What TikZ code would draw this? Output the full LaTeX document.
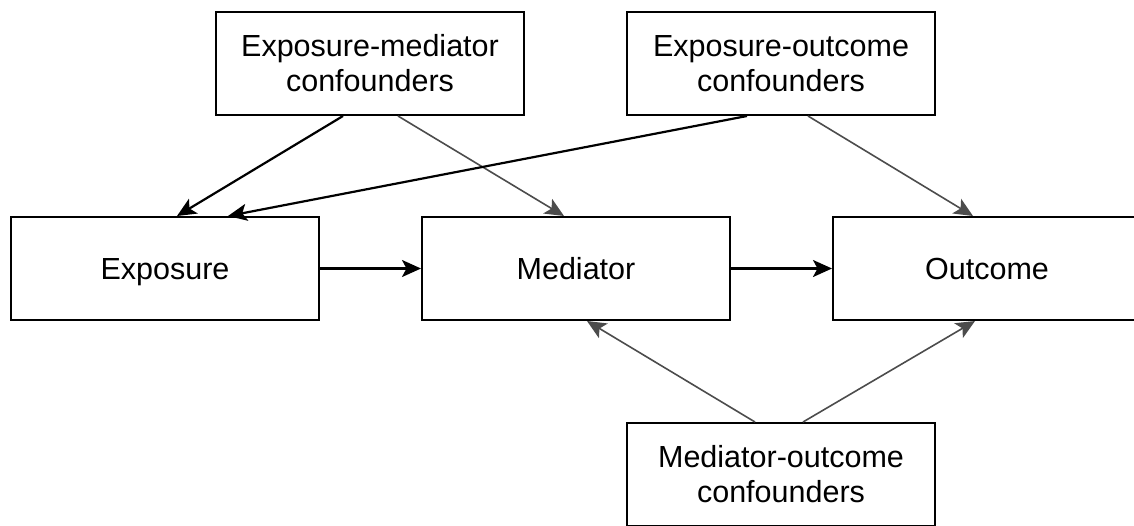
\documentclass[tikz,border=0pt]{standalone}
\usepackage{fontspec}
\setmainfont{Liberation Sans}
\usetikzlibrary{arrows.meta}
\begin{document}
\begin{tikzpicture}[x=1pt,y=-1pt,
  box/.style={draw=black,line width=2pt,fill=white,minimum width=308pt,minimum height=103pt,
    inner sep=0pt,align=center,font=\fontsize{30.5}{35}\selectfont},
  oneline/.style={text height=22pt,text depth=0pt},
  tip/.style={-{Stealth[length=19pt,width=17pt,inset=4.5pt]}},
  darkarrow/.style={tip,draw=black,line width=2.2pt},
  greyarrow/.style={tip,draw=black!70,line width=1.6pt}]
\useasboundingbox (0,0) rectangle (1134,525);
\clip (0,0) rectangle (1134,525);

% boxes
\node[box] (em)  at (370,63.5)  {Exposure-mediator\\confounders};
\node[box] (eo)  at (781,63.5)  {Exposure-outcome\\confounders};
\node[box,oneline] (exp) at (165,268.5) {Exposure};
\node[box,oneline] (med) at (576,268.5) {Mediator};
\node[box,oneline] (out) at (987,268.5) {Outcome};
\node[box] (mo)  at (781,474.5) {Mediator-outcome\\confounders};

% main path
\draw[darkarrow] (exp.east) -- (med.west);
\draw[darkarrow] (med.east) -- (out.west);

% confounder paths
\draw[darkarrow] ([xshift=-27pt]em.south) -- ([xshift=12pt]exp.north);
\draw[greyarrow] ([xshift=28pt]em.south) -- ([xshift=-12pt]med.north);
\draw[darkarrow] ([xshift=-34pt]eo.south) -- ([xshift=63pt]exp.north);
\draw[greyarrow] ([xshift=27pt]eo.south) -- ([xshift=-14pt]out.north);
\draw[greyarrow] ([xshift=-26pt]mo.north) -- ([xshift=11pt]med.south);
\draw[greyarrow] ([xshift=22pt]mo.north) -- ([xshift=-12pt]out.south);
\end{tikzpicture}
\end{document}
